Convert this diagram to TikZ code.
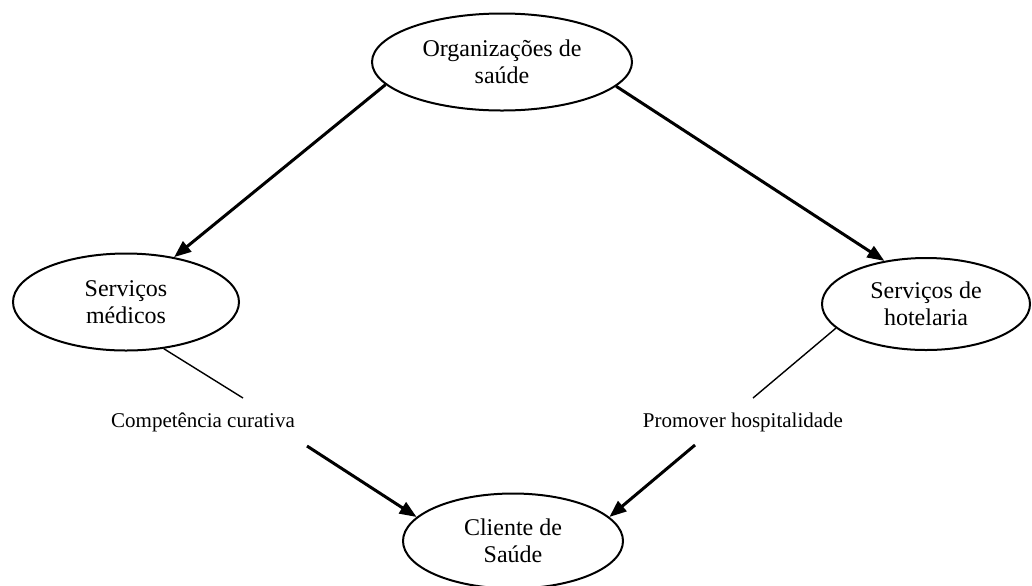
\documentclass[tikz,border=0pt]{standalone}
\usepackage{fontspec}
\setmainfont{Liberation Serif}
\usetikzlibrary{shapes.geometric,arrows.meta}

\tikzset{
  elip/.style={draw, ellipse, line width=1pt, inner sep=0pt, align=center,
    font=\fontsize{12}{13.5}\selectfont},
  rotulo/.style={inner sep=0pt, font=\fontsize{10.5}{12}\selectfont},
  seta/.style={line width=1.5pt, -{Triangle[length=8.5pt,width=6.5pt]}},
  fio/.style={line width=0.7pt}
}

\begin{document}
\begin{tikzpicture}[x=0.5pt, y=-0.5pt]

% Page frame (pixel grid of the reference)
\useasboundingbox (0,0) rectangle (1032,585);

% Ellipses
\node[elip, minimum width=130pt, minimum height=48.5pt] (org) at (502,62) {Organizações de\\saúde};
\node[elip, minimum width=113pt, minimum height=48.5pt] (med) at (126,302) {Serviços\\médicos};
\node[elip, minimum width=104pt, minimum height=46pt] (hot) at (926,304) {Serviços de\\hotelaria};
\node[elip, minimum width=110pt, minimum height=47.5pt] (cli) at (513,541) {Cliente de\\Saúde};

% Labels under the services
\node[rotulo] (cur) at (203,422) {Competência curativa};
\node[rotulo] (hosp) at (743,422) {Promover hospitalidade};

% Free ends of the thin lines and start of the lower arrows
\coordinate (curA) at (243,398);
\coordinate (hospA) at (753,398);
\coordinate (curB) at (307,446);
\coordinate (hospB) at (695,445);

% Arrows from the top
\draw[seta] (org.191) -- (med.43);
\draw[seta] (org.348) -- (hot.134);

% Thin lines towards the labels
\draw[fio] (med.309) -- (curA);
\draw[fio] (hot.195) -- (hospA);

% Arrows into the client
\draw[seta] (curB) -- (cli.166);
\draw[seta] (hospB) -- (cli.14);
\end{tikzpicture}
\end{document}
